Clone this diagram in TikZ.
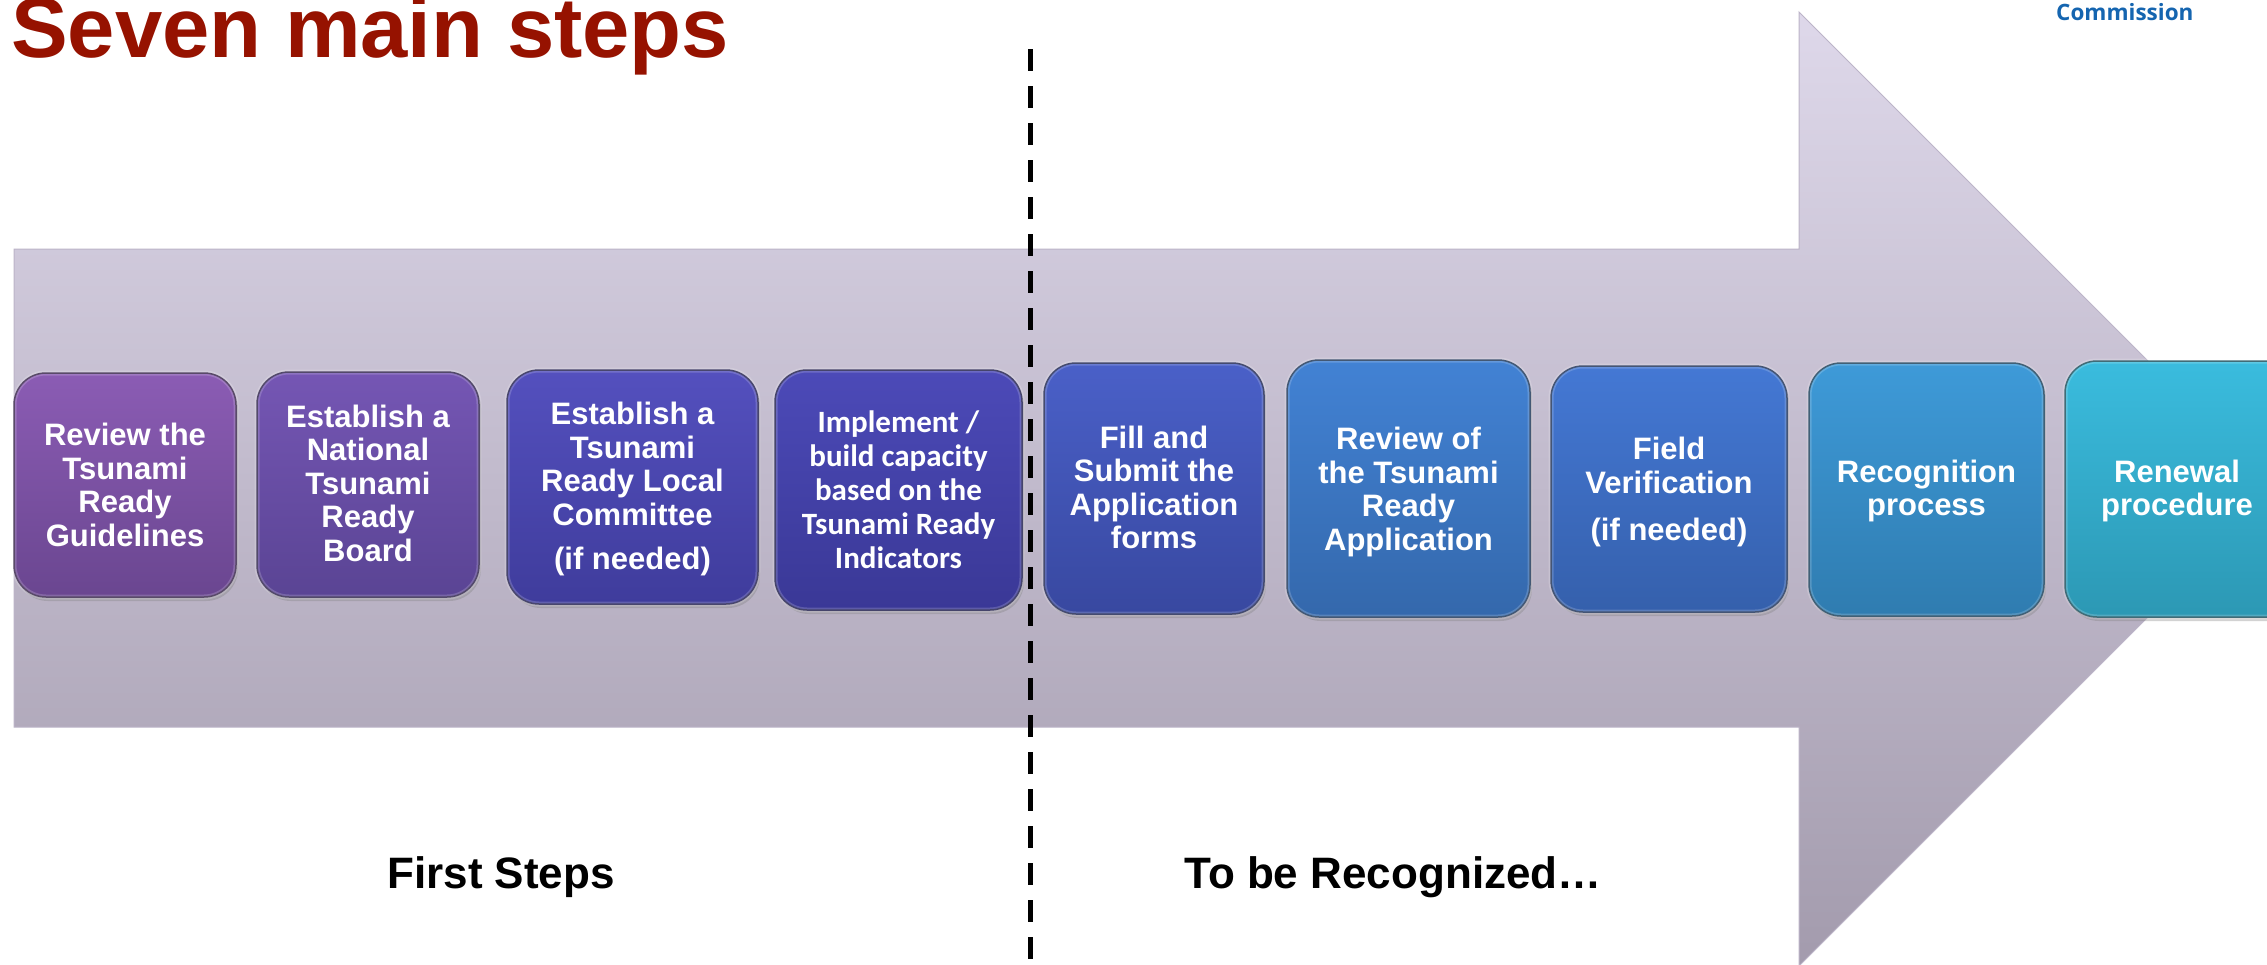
\documentclass[tikz,border=0pt]{standalone}
\usepackage{fontspec}
\setmainfont{Liberation Sans}
\newfontfamily\calfont{Carlito}
\newfontfamily\osfont{Open Sans}
\usetikzlibrary{shadows}
\definecolor{titlered}{HTML}{961200}
\definecolor{commblue}{HTML}{1565B0}
\definecolor{arrtop}{HTML}{DED8EA}
\definecolor{arrbot}{HTML}{A39BAD}
\definecolor{arredge}{HTML}{BCB4C8}
\definecolor{cAt}{HTML}{8B5CB4}\definecolor{cAb}{HTML}{6A4690}
\definecolor{cBt}{HTML}{7556B4}\definecolor{cBb}{HTML}{5A4494}
\definecolor{cCt}{HTML}{5450BE}\definecolor{cCb}{HTML}{3F3C9C}
\definecolor{cDt}{HTML}{4C4AB8}\definecolor{cDb}{HTML}{3A3896}
\definecolor{cEt}{HTML}{4A60C8}\definecolor{cEb}{HTML}{3848A0}
\definecolor{cFt}{HTML}{4282D4}\definecolor{cFb}{HTML}{3468AC}
\definecolor{cGt}{HTML}{4478D4}\definecolor{cGb}{HTML}{3560AC}
\definecolor{cHt}{HTML}{3E9AD8}\definecolor{cHb}{HTML}{2F7CB0}
\definecolor{cIt}{HTML}{3ABCDE}\definecolor{cIb}{HTML}{2C98B4}
\newcommand\stepfont{\fontsize{31}{33.5}\selectfont\bfseries}
\begin{document}
\begin{tikzpicture}[x=1pt,y=-1pt,
  stepbox/.style 2 args={rounded corners=32pt, top color=#1, bottom color=#2,
    draw=#2!50!black, line width=1.5pt, inner sep=0pt,
    drop shadow={opacity=0.35, shadow xshift=2pt, shadow yshift=-4pt},
    postaction={draw=white, draw opacity=0.18, line width=5pt}},
  steptext/.style={text=white, font=\stepfont, align=center, inner sep=0pt},
  bottomlabel/.style={font=\fontsize{44}{48}\selectfont\bfseries, inner sep=0pt, anchor=base},
  divider/.style={line width=5pt, dash pattern=on 22pt off 15pt}]
\useasboundingbox (0,0) rectangle (2267,964);
\clip (0,0) rectangle (2267,964);
\fill[white] (0,0) rectangle (2267,964);
% big arrow
\shade[top color=arrtop, bottom color=arrbot, draw=arredge, line width=1pt]
  (14,249) -- (1799,249) -- (1799,12) -- (2276,489) -- (1799,966) -- (1799,727) -- (14,727) -- cycle;
% title and header
\node[anchor=base west, inner sep=0pt, text=titlered, font=\fontsize{85}{90}\selectfont\bfseries] (title) at (11,57) {Seven main steps};
\node[anchor=base west, inner sep=0pt, text=commblue, font=\osfont\fontsize{22.5}{26}\selectfont\bfseries] (comm) at (2056,20) {Commission};
% divider
\coordinate (dtop) at (1030,49);
\coordinate (dbot) at (1030,970);
\draw[divider] (dtop) -- (dbot);
% boxes
\node[stepbox={cAt}{cAb}, minimum width=222pt, minimum height=224pt] (b1) at (125,485) {};
\node[stepbox={cBt}{cBb}, minimum width=222pt, minimum height=225pt] (b2) at (368,484.5) {};
\node[stepbox={cCt}{cCb}, minimum width=251pt, minimum height=234pt] (b3) at (632.5,487) {};
\node[stepbox={cDt}{cDb}, minimum width=247pt, minimum height=240pt] (b4) at (898.5,490) {};
\node[stepbox={cEt}{cEb}, minimum width=220pt, minimum height=251pt] (b5) at (1154,488.5) {};
\node[stepbox={cFt}{cFb}, minimum width=243pt, minimum height=257pt] (b6) at (1408.5,488.5) {};
\node[stepbox={cGt}{cGb}, minimum width=236pt, minimum height=246pt] (b7) at (1669,489) {};
\node[stepbox={cHt}{cHb}, minimum width=235pt, minimum height=253pt] (b8) at (1926.5,489.5) {};
\node[stepbox={cIt}{cIb}, minimum width=235pt, minimum height=256pt] (b9) at (2182.5,489) {};
% box texts
\node[steptext] (t1) at (125,485) {Review the\\Tsunami\\Ready\\Guidelines};
\node[steptext] (t2) at (368,483) {Establish a\\National\\Tsunami\\Ready\\Board};
\node[steptext] (t3) at (632.5,489) {Establish a\\Tsunami\\Ready Local\\Committee\\[11pt](if needed)};
\node[steptext, font=\calfont\fontsize{31}{34}\selectfont\bfseries] (t4) at (898.5,490) {Implement /\\build capacity\\based on the\\Tsunami Ready\\Indicators};
\node[steptext] (t5) at (1154,487.5) {Fill and\\Submit the\\Application\\forms};
\node[steptext] (t6) at (1408.5,492) {Review of\\the Tsunami\\Ready\\Application};
\node[steptext] (t7) at (1669,492) {Field\\Verification\\[14pt](if needed)};
\node[steptext] (t8) at (1926.5,491) {Recognition\\process};
\node[steptext] (t9) at (2177,491) {Renewal\\procedure};
% bottom labels
\node[bottomlabel] (first) at (501,888) {First Steps};
\node[bottomlabel] (recog) at (1393,888) {To be Recognized…};
\end{tikzpicture}
\end{document}
